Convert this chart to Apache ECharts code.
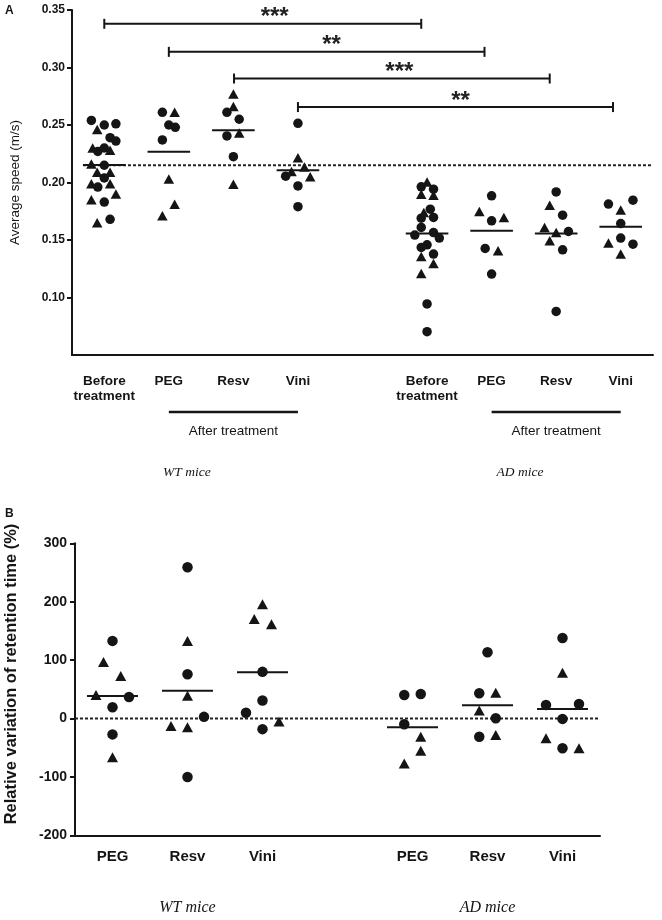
<!DOCTYPE html>
<html><head><meta charset="utf-8">
<script src="https://cdn.jsdelivr.net/npm/echarts@6/dist/echarts.min.js"></script>
<style>html,body{margin:0;padding:0;background:#fff}#c{width:662px;height:920px}</style>
</head><body><div id="c"></div>
<script>
// ---------- Panel A: average speed (m/s) ----------
const speedCategories = ['Before\ntreatment','PEG','Resv','Vini','','Before\ntreatment','PEG','Resv','Vini'];
const speedTicks = [0.10,0.15,0.20,0.25,0.30,0.35];
// per category: [jitter (category units), speed]
const speedCircles = [
  [[-0.20,0.254],[0,0.250],[0.18,0.251],[0.09,0.239],[0.18,0.236],[-0.10,0.227],[0,0.230],[0,0.215],[0,0.204],[-0.10,0.196],[0,0.183],[0.09,0.168]],
  [[-0.10,0.261],[0,0.250],[0.10,0.248],[-0.10,0.237]],
  [[-0.10,0.261],[0.09,0.255],[-0.10,0.2405],[0,0.2225]],
  [[0,0.2515],[-0.19,0.2055],[0,0.197],[0,0.179]],
  [],
  [[-0.09,0.1962],[0.10,0.1942],[0.05,0.1768],[-0.09,0.169],[0.10,0.1696],[-0.09,0.1609],[-0.19,0.1543],[0.10,0.1565],[0.19,0.1517],[-0.09,0.1435],[0,0.1458],[0.10,0.1378],[0,0.0944],[0,0.0703]],
  [[0,0.1884],[0,0.1667],[-0.10,0.1426],[0,0.1204]],
  [[0,0.1918],[0.10,0.1716],[0.19,0.1574],[0.10,0.1415],[0,0.0879]],
  [[-0.19,0.1812],[0.19,0.1846],[0,0.1643],[0,0.1517],[0.19,0.1464]]
];
const speedTriangles = [
  [[-0.11,0.246],[-0.18,0.230],[0.09,0.228],[-0.20,0.216],[-0.11,0.209],[0.09,0.209],[-0.20,0.199],[0.09,0.199],[0.18,0.190],[-0.20,0.185],[-0.11,0.165]],
  [[0.09,0.261],[0,0.203],[0.09,0.181],[-0.10,0.171]],
  [[0,0.277],[0,0.266],[0.09,0.243],[0,0.1985]],
  [[0,0.2216],[-0.10,0.2095],[0.10,0.2135],[0.19,0.205]],
  [],
  [[0,0.2005],[-0.09,0.1898],[0.10,0.189],[-0.05,0.1739],[-0.09,0.1357],[0.10,0.1296],[-0.09,0.1209]],
  [[-0.19,0.1748],[0.19,0.1695],[0.10,0.1406]],
  [[-0.10,0.1803],[-0.18,0.1609],[0,0.1565],[-0.10,0.1493]],
  [[0,0.176],[-0.19,0.1473],[0,0.1378]]
];
const speedMedians = [0.2153,0.2268,0.2454,0.2107,null,0.1557,0.158,0.1557,0.1615];
const speedReference = 0.215;
// [from category, to category, level, label centre category]
const speedBrackets = [[0,4.91,0.338,2.64],[1,5.89,0.3136,3.52],[2.01,6.90,0.2904,4.57],[3,7.88,0.2656,5.52]];
const speedBracketLabels = ['***','**','***','**'];
const speedTreatmentSpans = [[1,3],[6,8]];
const speedGroupLabels = ['WT mice','AD mice'];
const speedGroupLabelAt = [1.28,6.44];

// ---------- Panel B: relative variation of retention time (%) ----------
const retentionCategories = ['PEG','Resv','Vini','','PEG','Resv','Vini'];
const retentionCircles = [
  [[0,133],[0.22,37],[0,19.5],[0,-27]],
  [[0,259],[0,76],[0.22,3],[0,-100]],
  [[0,80],[0,31],[-0.22,10],[0,-18]],
  [],
  [[-0.11,40.5],[0.11,42],[-0.11,-9.6]],
  [[0,113.5],[-0.11,43.4],[0.11,0.7],[-0.11,-31]],
  [[0,138],[-0.22,23.4],[0.22,25],[0,-0.5],[0,-50.6]]
];
const retentionTriangles = [
  [[-0.12,97],[0.11,73],[-0.22,40.5],[0,-66]],
  [[0,133],[0,39],[-0.22,-12.5],[0,-14.7]],
  [[0,195.5],[-0.11,170.4],[0.12,161.3],[0.22,-5]],
  [],
  [[0.11,-31],[0.11,-55],[-0.11,-77]],
  [[0.11,44.4],[-0.11,13.7],[0.11,-28]],
  [[0,78.6],[-0.22,-33.5],[0.22,-50.6]]
];
const retentionMedians = [38.8,47.9,79.3,null,-14.7,22.9,16.6];
const retentionReference = 0;
const retentionGroupLabels = ['WT mice','AD mice'];
const retentionGroupLabelAt = [1,5];

// ---------- rendering ----------
const INK = '#151515';
const SANS = '"Liberation Sans", Arial, sans-serif';
const SERIF = '"Liberation Serif", "Times New Roman", serif';

function spread(groups){ const out=[]; groups.forEach((g,i)=>g.forEach(p=>out.push([i+p[0],p[1]]))); return out; }
function medianData(m){ return m.map((v,i)=> v==null?null:[i,v]).filter(Boolean); }
function medianSeries(xi, yi, data, hw){
  return {type:'custom', xAxisIndex:xi, yAxisIndex:yi, data:data, encode:{x:0,y:1}, z:3, silent:true,
    renderItem:(p,api)=>{ const x=api.value(0), y=api.value(1);
      const a=api.coord([x-hw,y]), b=api.coord([x+hw,y]);
      return {type:'line', shape:{x1:a[0],y1:a[1],x2:b[0],y2:b[1]}, style:{stroke:INK,lineWidth:2}}; }};
}
function groupLabelSeries(xi, yi, xs, labels, dy, size){
  return {type:'custom', xAxisIndex:xi, yAxisIndex:yi, data:xs.map(x=>[x]), encode:{x:0}, silent:true,
    renderItem:(p,api)=>{ const cs=p.coordSys; const base=cs.y+cs.height;
      const a=api.coord([api.value(0), 0]);
      return {type:'text', x:a[0], y:base+dy, style:{text:labels[p.dataIndex], fill:INK, fontSize:size, fontStyle:'italic', fontFamily:SERIF, align:'center', verticalAlign:'middle'}}; }};
}
function axisCommon(){ return {onZero:false, lineStyle:{color:INK,width:2}}; }
const dot = {color:INK, opacity:1};

const option = {
  animation:false,
  backgroundColor:'#fff',
  grid:[
    {left:62, top:10, width:591, height:345},
    {left:75, top:543.3, width:525, height:292.2}
  ],
  xAxis:[
    {type:'category', gridIndex:0, data:speedCategories, boundaryGap:true,
      axisLine:axisCommon(), axisTick:{alignWithLabel:true, interval:0, length:5, lineStyle:{color:INK,width:2}},
      axisLabel:{interval:0, margin:19, fontSize:13.5, fontWeight:'bold', lineHeight:15, color:INK, fontFamily:SANS},
      splitLine:{show:false}},
    {type:'value', gridIndex:0, min:-0.5, max:8.5, show:false},
    {type:'category', gridIndex:1, data:retentionCategories, boundaryGap:true,
      axisLine:axisCommon(), axisTick:{alignWithLabel:true, interval:0, length:5, lineStyle:{color:INK,width:2}},
      axisLabel:{interval:0, margin:13, fontSize:15, fontWeight:'bold', lineHeight:16, color:INK, fontFamily:SANS},
      splitLine:{show:false}},
    {type:'value', gridIndex:1, min:-0.5, max:6.5, show:false}
  ],
  yAxis:[
    {type:'value', gridIndex:0, min:0.05, max:0.35, interval:0.05,
      axisLine:Object.assign({show:true}, axisCommon()),
      axisTick:{show:true, length:5, customValues:speedTicks, lineStyle:{color:INK,width:2}},
      axisLabel:{customValues:speedTicks, formatter:v=>Number(v).toFixed(2), margin:7, fontSize:12, fontWeight:'bold', color:INK, fontFamily:SANS},
      splitLine:{show:false},
      name:'Average speed (m/s)', nameLocation:'middle', nameGap:50, nameRotate:90,
      nameTextStyle:{fontSize:13.5, color:INK, fontFamily:SANS}},
    {type:'value', gridIndex:1, min:-200, max:300, interval:100,
      axisLine:Object.assign({show:true}, axisCommon()),
      axisTick:{show:true, length:5, lineStyle:{color:INK,width:2}},
      axisLabel:{margin:8, fontSize:14, fontWeight:'bold', color:INK, fontFamily:SANS},
      splitLine:{show:false}}
  ],
  graphic:[
    {type:'text', left:5, top:5, style:{text:'A', fontSize:12, fontWeight:'bold', fill:INK, fontFamily:SANS}},
    {type:'text', left:5, top:508, style:{text:'B', fontSize:12, fontWeight:'bold', fill:INK, fontFamily:SANS}},
    {type:'text', x:11, y:674, rotation:Math.PI/2,
      style:{text:'Relative variation of retention time (%)', fontSize:16.5, fontWeight:'bold', fill:INK, fontFamily:SANS, align:'center', verticalAlign:'middle'}}
  ],
  series:[
    // Panel A reference line
    {type:'line', xAxisIndex:1, yAxisIndex:0, data:[[-0.33,speedReference],[8.5,speedReference]], symbol:'none', silent:true, z:2,
      lineStyle:{color:'#222', width:2, type:[3,2]}},
    medianSeries(1,0,medianData(speedMedians),0.33),
    {type:'scatter', xAxisIndex:1, yAxisIndex:0, symbol:'circle', symbolSize:9.5, itemStyle:dot, data:spread(speedCircles), z:4, silent:true},
    {type:'scatter', xAxisIndex:1, yAxisIndex:0, symbol:'triangle', symbolSize:[10.5,9.5], itemStyle:dot, data:spread(speedTriangles), z:4, silent:true},
    // significance brackets
    {type:'custom', xAxisIndex:1, yAxisIndex:0, data:speedBrackets, encode:{x:[0,1,3], y:2}, silent:true, z:5,
      renderItem:(p,api)=>{ const y=api.value(2);
        const a=api.coord([api.value(0),y]), b=api.coord([api.value(1),y]), c=api.coord([api.value(3),y]);
        const yy=a[1];
        return {type:'group', children:[
          {type:'line', shape:{x1:a[0],y1:yy,x2:b[0],y2:yy}, style:{stroke:INK,lineWidth:2}},
          {type:'line', shape:{x1:a[0],y1:yy-5,x2:a[0],y2:yy+5}, style:{stroke:INK,lineWidth:2}},
          {type:'line', shape:{x1:b[0],y1:yy-5,x2:b[0],y2:yy+5}, style:{stroke:INK,lineWidth:2}},
          {type:'text', x:c[0], y:yy-6, style:{text:speedBracketLabels[p.dataIndex], fill:'#222', fontSize:24, fontWeight:'bold', fontFamily:SANS, align:'center', verticalAlign:'middle'}}
        ]}; }},
    // "After treatment" spans
    {type:'custom', xAxisIndex:1, yAxisIndex:0, data:speedTreatmentSpans, encode:{x:[0,1]}, silent:true,
      renderItem:(p,api)=>{ const cs=p.coordSys; const base=cs.y+cs.height;
        const a=api.coord([api.value(0),0.2]), b=api.coord([api.value(1),0.2]);
        return {type:'group', children:[
          {type:'line', shape:{x1:a[0],y1:base+57,x2:b[0],y2:base+57}, style:{stroke:INK,lineWidth:2.5}},
          {type:'text', x:(a[0]+b[0])/2, y:base+76, style:{text:'After treatment', fill:INK, fontSize:13.5, fontFamily:SANS, align:'center', verticalAlign:'middle'}}
        ]}; }},
    groupLabelSeries(1,0,speedGroupLabelAt,speedGroupLabels,117.5,13.5),
    // Panel B
    {type:'line', xAxisIndex:3, yAxisIndex:1, data:[[-0.5,retentionReference],[6.5,retentionReference]], symbol:'none', silent:true, z:2,
      lineStyle:{color:'#222', width:2, type:[3,2]}},
    medianSeries(3,1,medianData(retentionMedians),0.34),
    {type:'scatter', xAxisIndex:3, yAxisIndex:1, symbol:'circle', symbolSize:10.5, itemStyle:dot, data:spread(retentionCircles), z:4, silent:true},
    {type:'scatter', xAxisIndex:3, yAxisIndex:1, symbol:'triangle', symbolSize:[11,10], itemStyle:dot, data:spread(retentionTriangles), z:4, silent:true},
    groupLabelSeries(3,1,retentionGroupLabelAt,retentionGroupLabels,72,16)
  ]
};
const chart = echarts.init(document.getElementById('c'));
chart.setOption(option);
</script>
</body></html>
